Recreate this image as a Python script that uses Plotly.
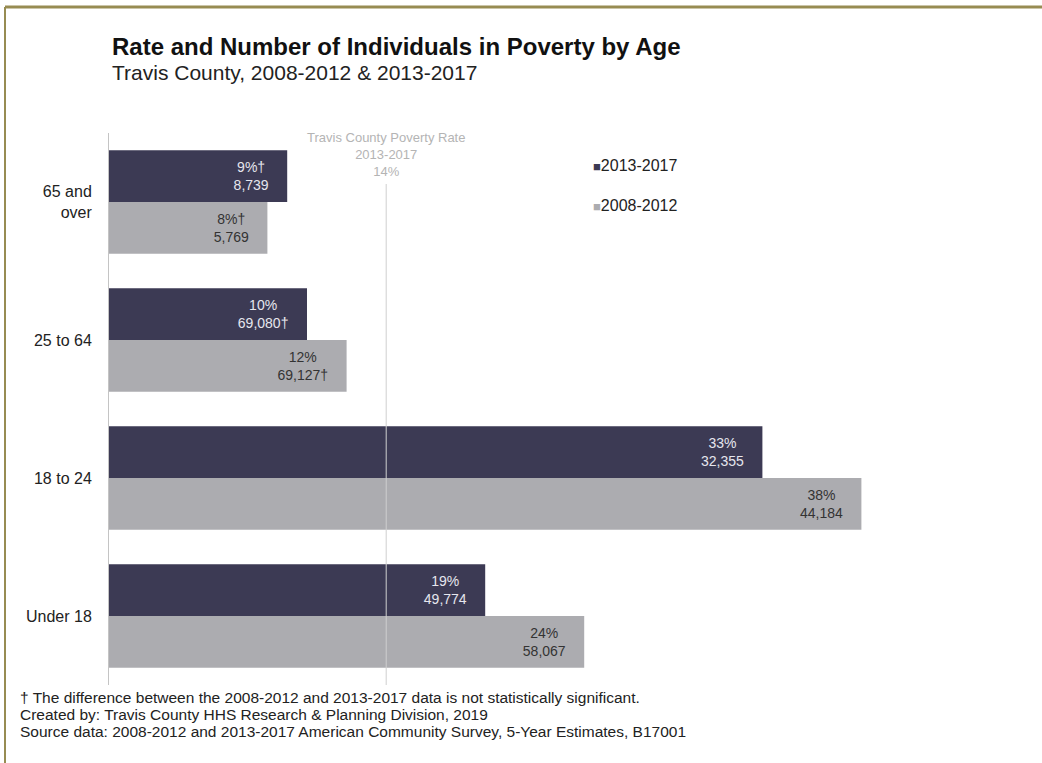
import plotly.graph_objects as go

# Age groups, listed bottom to top on the chart
age_groups = ["Under 18", "18 to 24", "25 to 64", "65 and over"]
age_tick_labels = ["Under 18", "18 to 24", "25 to 64", "65 and<br>over"]

# Poverty rate (%) and number of individuals in poverty
rate_2013_2017 = [19, 33, 10, 9]
count_2013_2017 = ["49,774", "32,355", "69,080†", "8,739"]
rate_note_2013_2017 = ["", "", "", "†"]

rate_2008_2012 = [24, 38, 12, 8]
count_2008_2012 = ["58,067", "44,184", "69,127†", "5,769"]
rate_note_2008_2012 = ["", "", "", "†"]

county_rate_2013_2017 = 14

W, H = 1042, 763
L, R, T, B = 109, 141, 133, 78
PW, PH = W - L - R, H - T - B


def px_x(p):
    return (p - L) / PW


def px_y(p):
    return (H - B - p) / PH


PAD = "\u00a0" * 4


def labels(rates, notes, counts):
    return [f"{r}%{n}{PAD}<br>{c}{PAD}" for r, n, c in zip(rates, notes, counts)]


DARK = "#3c3a54"
LIGHT = "#acacb0"
FONT = "Liberation Sans, Arial, sans-serif"

fig = go.Figure()
fig.add_trace(go.Bar(
    name="2008-2012", y=age_groups, x=rate_2008_2012, orientation="h",
    marker=dict(color=LIGHT, line=dict(width=0)),
    text=labels(rate_2008_2012, rate_note_2008_2012, count_2008_2012),
    textposition="inside", insidetextanchor="end",
    textfont=dict(color="#333333", size=14, family=FONT),
    hoverinfo="skip",
))
fig.add_trace(go.Bar(
    name="2013-2017", y=age_groups, x=rate_2013_2017, orientation="h",
    marker=dict(color=DARK, line=dict(width=0)),
    text=labels(rate_2013_2017, rate_note_2013_2017, count_2013_2017),
    textposition="inside", insidetextanchor="end",
    textfont=dict(color="#e6e6ee", size=14, family=FONT),
    hoverinfo="skip",
))

# County-wide poverty rate reference line
fig.add_shape(type="line", xref="x", yref="paper",
              x0=county_rate_2013_2017, x1=county_rate_2013_2017,
              y0=0, y1=px_y(184), line=dict(color="#cfcfcf", width=1),
              layer="above")
fig.add_annotation(xref="x", yref="paper", x=county_rate_2013_2017, y=px_y(155),
                   xanchor="center", yanchor="middle",
                   text=f"Travis County Poverty Rate<br>2013-2017<br>{county_rate_2013_2017}%",
                   showarrow=False, align="center",
                   font=dict(size=13, color="#b4b4b4", family=FONT))

# Title and subtitle
fig.add_annotation(xref="paper", yref="paper", x=px_x(110), y=px_y(46),
                   xanchor="left", yanchor="middle", showarrow=False,
                   text="<b>Rate and Number of Individuals in Poverty by Age</b>",
                   font=dict(size=24, color="#111111", family=FONT))
fig.add_annotation(xref="paper", yref="paper", x=px_x(110), y=px_y(72),
                   xanchor="left", yanchor="middle", showarrow=False,
                   text="Travis County, 2008-2012 & 2013-2017",
                   font=dict(size=21, color="#222222", family=FONT))

# Legend entries
for name, color, ypix in [("2013-2017", DARK, 165), ("2008-2012", LIGHT, 205)]:
    fig.add_annotation(xref="paper", yref="paper", x=px_x(591), y=px_y(ypix),
                       xanchor="left", yanchor="middle", showarrow=False,
                       text=f"<span style='color:{color};font-size:13px'>■</span>{name}",
                       font=dict(size=16, color="#222222", family=FONT))

# Footnotes
notes = [
    "† The difference between the 2008-2012 and 2013-2017 data is not statistically significant.",
    "Created by: Travis County HHS Research & Planning Division, 2019",
    "Source data: 2008-2012 and 2013-2017 American Community Survey, 5-Year Estimates, B17001",
]
for i, t in enumerate(notes):
    fig.add_annotation(xref="paper", yref="paper", x=px_x(18), y=px_y(697 + 17 * i),
                       xanchor="left", yanchor="middle", showarrow=False,
                       text=t, font=dict(size=15.5, color="#222222", family=FONT))

# Page frame
frame = "#978c52"
fig.add_shape(type="line", xref="paper", yref="paper",
              x0=px_x(5), x1=px_x(1042), y0=px_y(7), y1=px_y(7),
              line=dict(color=frame, width=3))
fig.add_shape(type="line", xref="paper", yref="paper",
              x0=px_x(5), x1=px_x(5), y0=px_y(7), y1=px_y(763),
              line=dict(color=frame, width=2))

fig.update_layout(
    width=W, height=H, autosize=False,
    margin=dict(l=L, r=R, t=T, b=B),
    paper_bgcolor="white", plot_bgcolor="white",
    barmode="group", bargap=0.25, bargroupgap=0,
    showlegend=False,
    font=dict(family=FONT, color="#222222"),
)
fig.update_xaxes(range=[0, PW / 19.8], visible=False, fixedrange=True)
fig.update_yaxes(
    categoryorder="array", categoryarray=age_groups,
    tickvals=age_groups, ticktext=age_tick_labels,
    tickfont=dict(size=16, color="#222222", family=FONT),
    showline=True, linecolor="#c4c4c4", linewidth=1,
    showgrid=False, ticks="", ticklabelstandoff=13, fixedrange=True,
)

fig.write_html("out.html", config={"displayModeBar": False})
